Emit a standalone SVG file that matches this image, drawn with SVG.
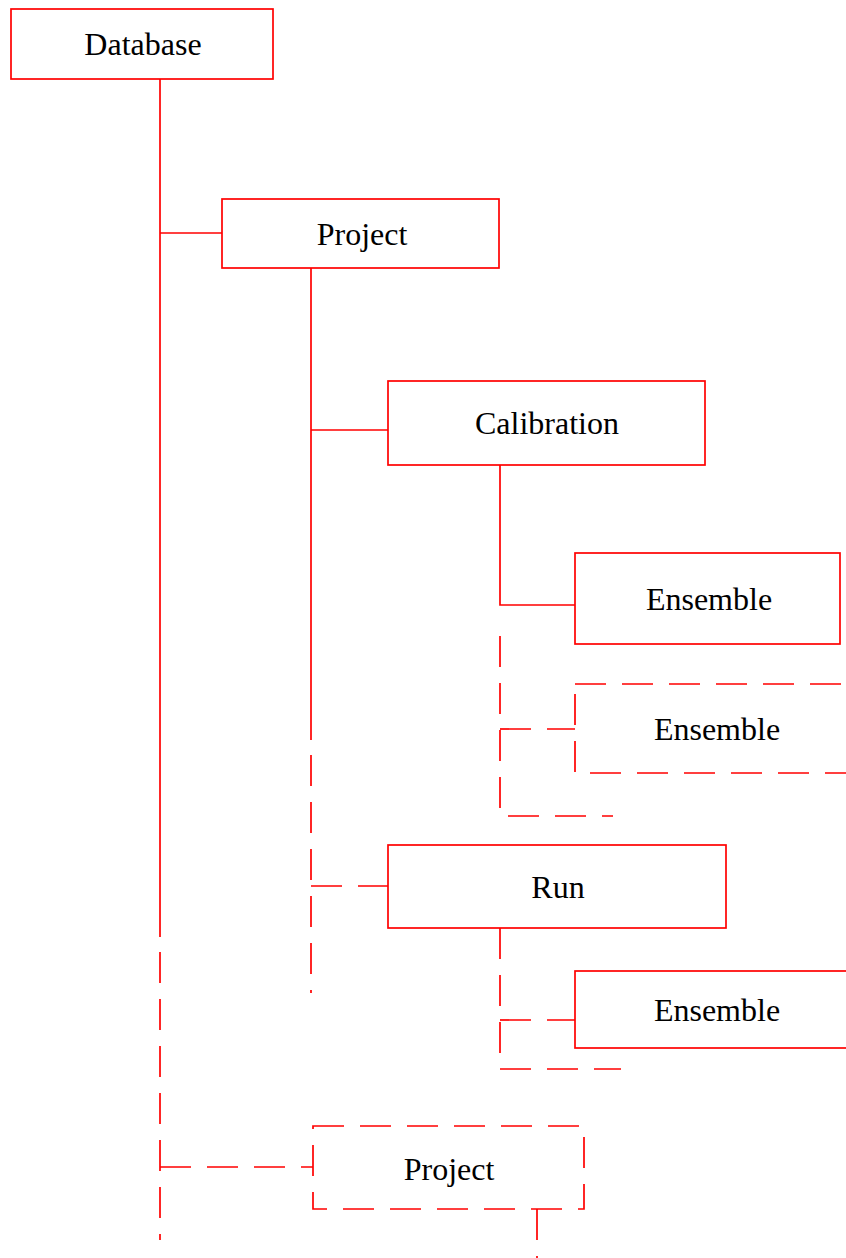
<svg xmlns="http://www.w3.org/2000/svg" width="846" height="1258" viewBox="0 0 846 1258">
  <style>
    .box { fill: #ffffff; stroke: #ff0000; stroke-width: 1.7; }
    .dashed { stroke-dasharray: 31 16; }
    .wire { fill: none; stroke: #ff0000; stroke-width: 1.7; }
    .label { font-family: "Liberation Serif", "Times New Roman", serif; font-size: 32px; fill: #000000; text-anchor: middle; }
  </style>
  <rect width="846" height="1258" fill="#ffffff"/>

  <g id="connectors">
    <!-- Database trunk -->
    <path class="wire" d="M160 79 V937"/>
    <path class="wire dashed" d="M160 952 V1240"/>
    <path class="wire" d="M160 233 H222"/>
    <path class="wire dashed" d="M160 1167 H313"/>

    <!-- Project trunk -->
    <path class="wire" d="M311 268 V740"/>
    <path class="wire dashed" d="M311 755 V993"/>
    <path class="wire" d="M311 430 H388"/>
    <path class="wire dashed" d="M311 886 H388"/>

    <!-- Calibration trunk -->
    <path class="wire" d="M500 465 V605 H575"/>
    <path class="wire dashed" d="M500 636 V816 H613"/>
    <path class="wire dashed" d="M500 729 H575"/>

    <!-- Run trunk -->
    <path class="wire dashed" d="M500 928 V1069 H621"/>
    <path class="wire dashed" d="M500 1020 H575"/>

    <!-- second Project trunk -->
    <path class="wire dashed" d="M537 1209 V1258"/>
  </g>

  <g id="database">
    <rect class="box" x="11" y="9" width="262" height="70"/>
    <text class="label" x="143" y="55">Database</text>
  </g>

  <g id="project">
    <rect class="box" x="222" y="199" width="277" height="69"/>
    <text class="label" x="362" y="245">Project</text>
  </g>

  <g id="calibration">
    <rect class="box" x="388" y="381" width="317" height="84"/>
    <text class="label" x="547" y="434">Calibration</text>
  </g>

  <g id="ensemble-1">
    <rect class="box" x="575" y="553" width="265" height="91"/>
    <text class="label" x="709" y="610">Ensemble</text>
  </g>

  <g id="ensemble-2">
    <rect class="box dashed" x="575" y="684" width="284" height="89"/>
    <text class="label" x="717" y="740">Ensemble</text>
  </g>

  <g id="run">
    <rect class="box" x="388" y="845" width="338" height="83"/>
    <text class="label" x="558" y="898">Run</text>
  </g>

  <g id="ensemble-3">
    <rect class="box" x="575" y="971" width="284" height="77"/>
    <text class="label" x="717" y="1021">Ensemble</text>
  </g>

  <g id="project-2">
    <rect class="box dashed" x="313" y="1126" width="271" height="83"/>
    <text class="label" x="449" y="1180">Project</text>
  </g>
</svg>
